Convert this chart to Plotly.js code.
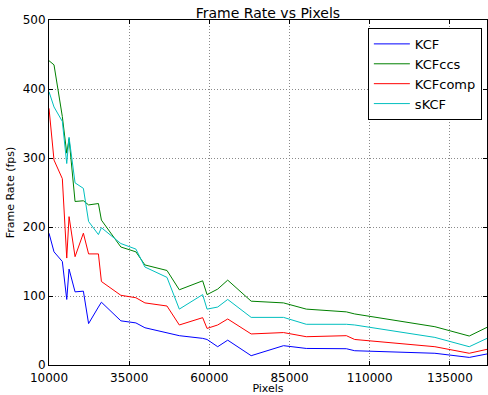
<!DOCTYPE html>
<html>
<head>
<meta charset="utf-8">
<script src="https://cdn.plot.ly/plotly-3.0.1.min.js"></script>
<style>html,body{margin:0;padding:0;background:#fff;}#chart{width:488px;height:395px;}</style>
</head>
<body>
<div id="chart"></div>
<script>
const pixels = [10000, 11563, 14156, 15531, 16250, 18125, 20719, 22344, 25406, 26344, 32406, 37094, 39906, 46781, 50625, 57906, 59281, 62594, 65719, 73031, 83125, 90219, 102719, 105313, 130313, 141031, 146563];
const kcf     = [191, 164, 150, 95, 139, 106, 107, 60, 84, 91, 64, 61, 54, 47, 42.5, 38.6, 37, 26.5, 36, 13.5, 28, 24, 23.6, 20.7, 17, 11, 16];
const kcfccs  = [441, 435, 360, 307, 328, 237, 238, 232, 234, 210, 171, 164, 145, 137, 109, 122, 102, 110, 123, 92.5, 90, 81, 77, 74, 55.5, 42, 54.6];
const kcfcomp = [372, 297, 270, 155, 215, 157, 191, 161, 161, 121, 101, 97.5, 90, 85.5, 58, 68.6, 53, 58, 66.7, 45, 47, 41, 42.5, 37, 26.5, 17, 22.7];
const skcf    = [396, 374, 353, 292, 330, 264, 256, 208, 189, 199, 176, 168, 142, 127, 81, 102, 81, 84, 95, 69, 69, 59, 59, 58, 40, 26.5, 38.6];
const seriesNames = ['KCF', 'KCFccs', 'KCFcomp', 'sKCF'];
const xTicks = [10000, 35000, 60000, 85000, 110000, 135000];
const yTicks = [0, 100, 200, 300, 400, 500];

const colors = ['#0000ff', '#008000', '#ff0000', '#00bfbf'];
const data = [kcf, kcfccs, kcfcomp, skcf].map((ys, i) => ({
  x: pixels, y: ys, type: 'scatter', mode: 'lines', name: seriesNames[i],
  line: {color: colors[i], width: 1}
}));

const font = {family: 'DejaVu Sans, sans-serif', color: '#000'};
const axisCommon = {
  showline: true, linecolor: '#000', linewidth: 1, mirror: 'ticks',
  ticks: 'inside', ticklen: 4, tickcolor: '#000',
  showgrid: true, gridcolor: '#8a8a8a', griddash: '1px,2px', gridwidth: 1,
  zeroline: false, tickfont: {family: font.family, size: 12, color: '#000'}
};
const layout = {
  width: 488, height: 395,
  margin: {l: 49, r: 1, t: 20, b: 30},
  paper_bgcolor: '#fff', plot_bgcolor: '#fff',
  font: font,
  title: {text: 'Frame Rate vs Pixels', font: {family: font.family, size: 14, color: '#000'}, x: 0.549, xanchor: 'center', y: 0.968, yanchor: 'middle'},
  xaxis: Object.assign({}, axisCommon, {
    range: [10000, 146563], tickvals: xTicks, ticktext: xTicks.map(String),
    ticklabelstandoff: 2,
    title: {text: 'Pixels', font: {family: font.family, size: 11, color: '#000'}, standoff: 6}
  }),
  yaxis: Object.assign({}, axisCommon, {
    range: [0, 500], tickvals: yTicks,
    title: {text: 'Frame Rate (fps)', font: {family: font.family, size: 11, color: '#000'}, standoff: 5}
  }),
  showlegend: true,
  legend: {
    x: 0.728, y: 0.977, xanchor: 'left', yanchor: 'top',
    bgcolor: '#fff', bordercolor: '#000', borderwidth: 1,
    font: {family: font.family, size: 13, color: '#000'},
    tracegroupgap: 0, itemwidth: 36
  }
};
Plotly.newPlot('chart', data, layout, {displayModeBar: false, staticPlot: true});
</script>
</body>
</html>
